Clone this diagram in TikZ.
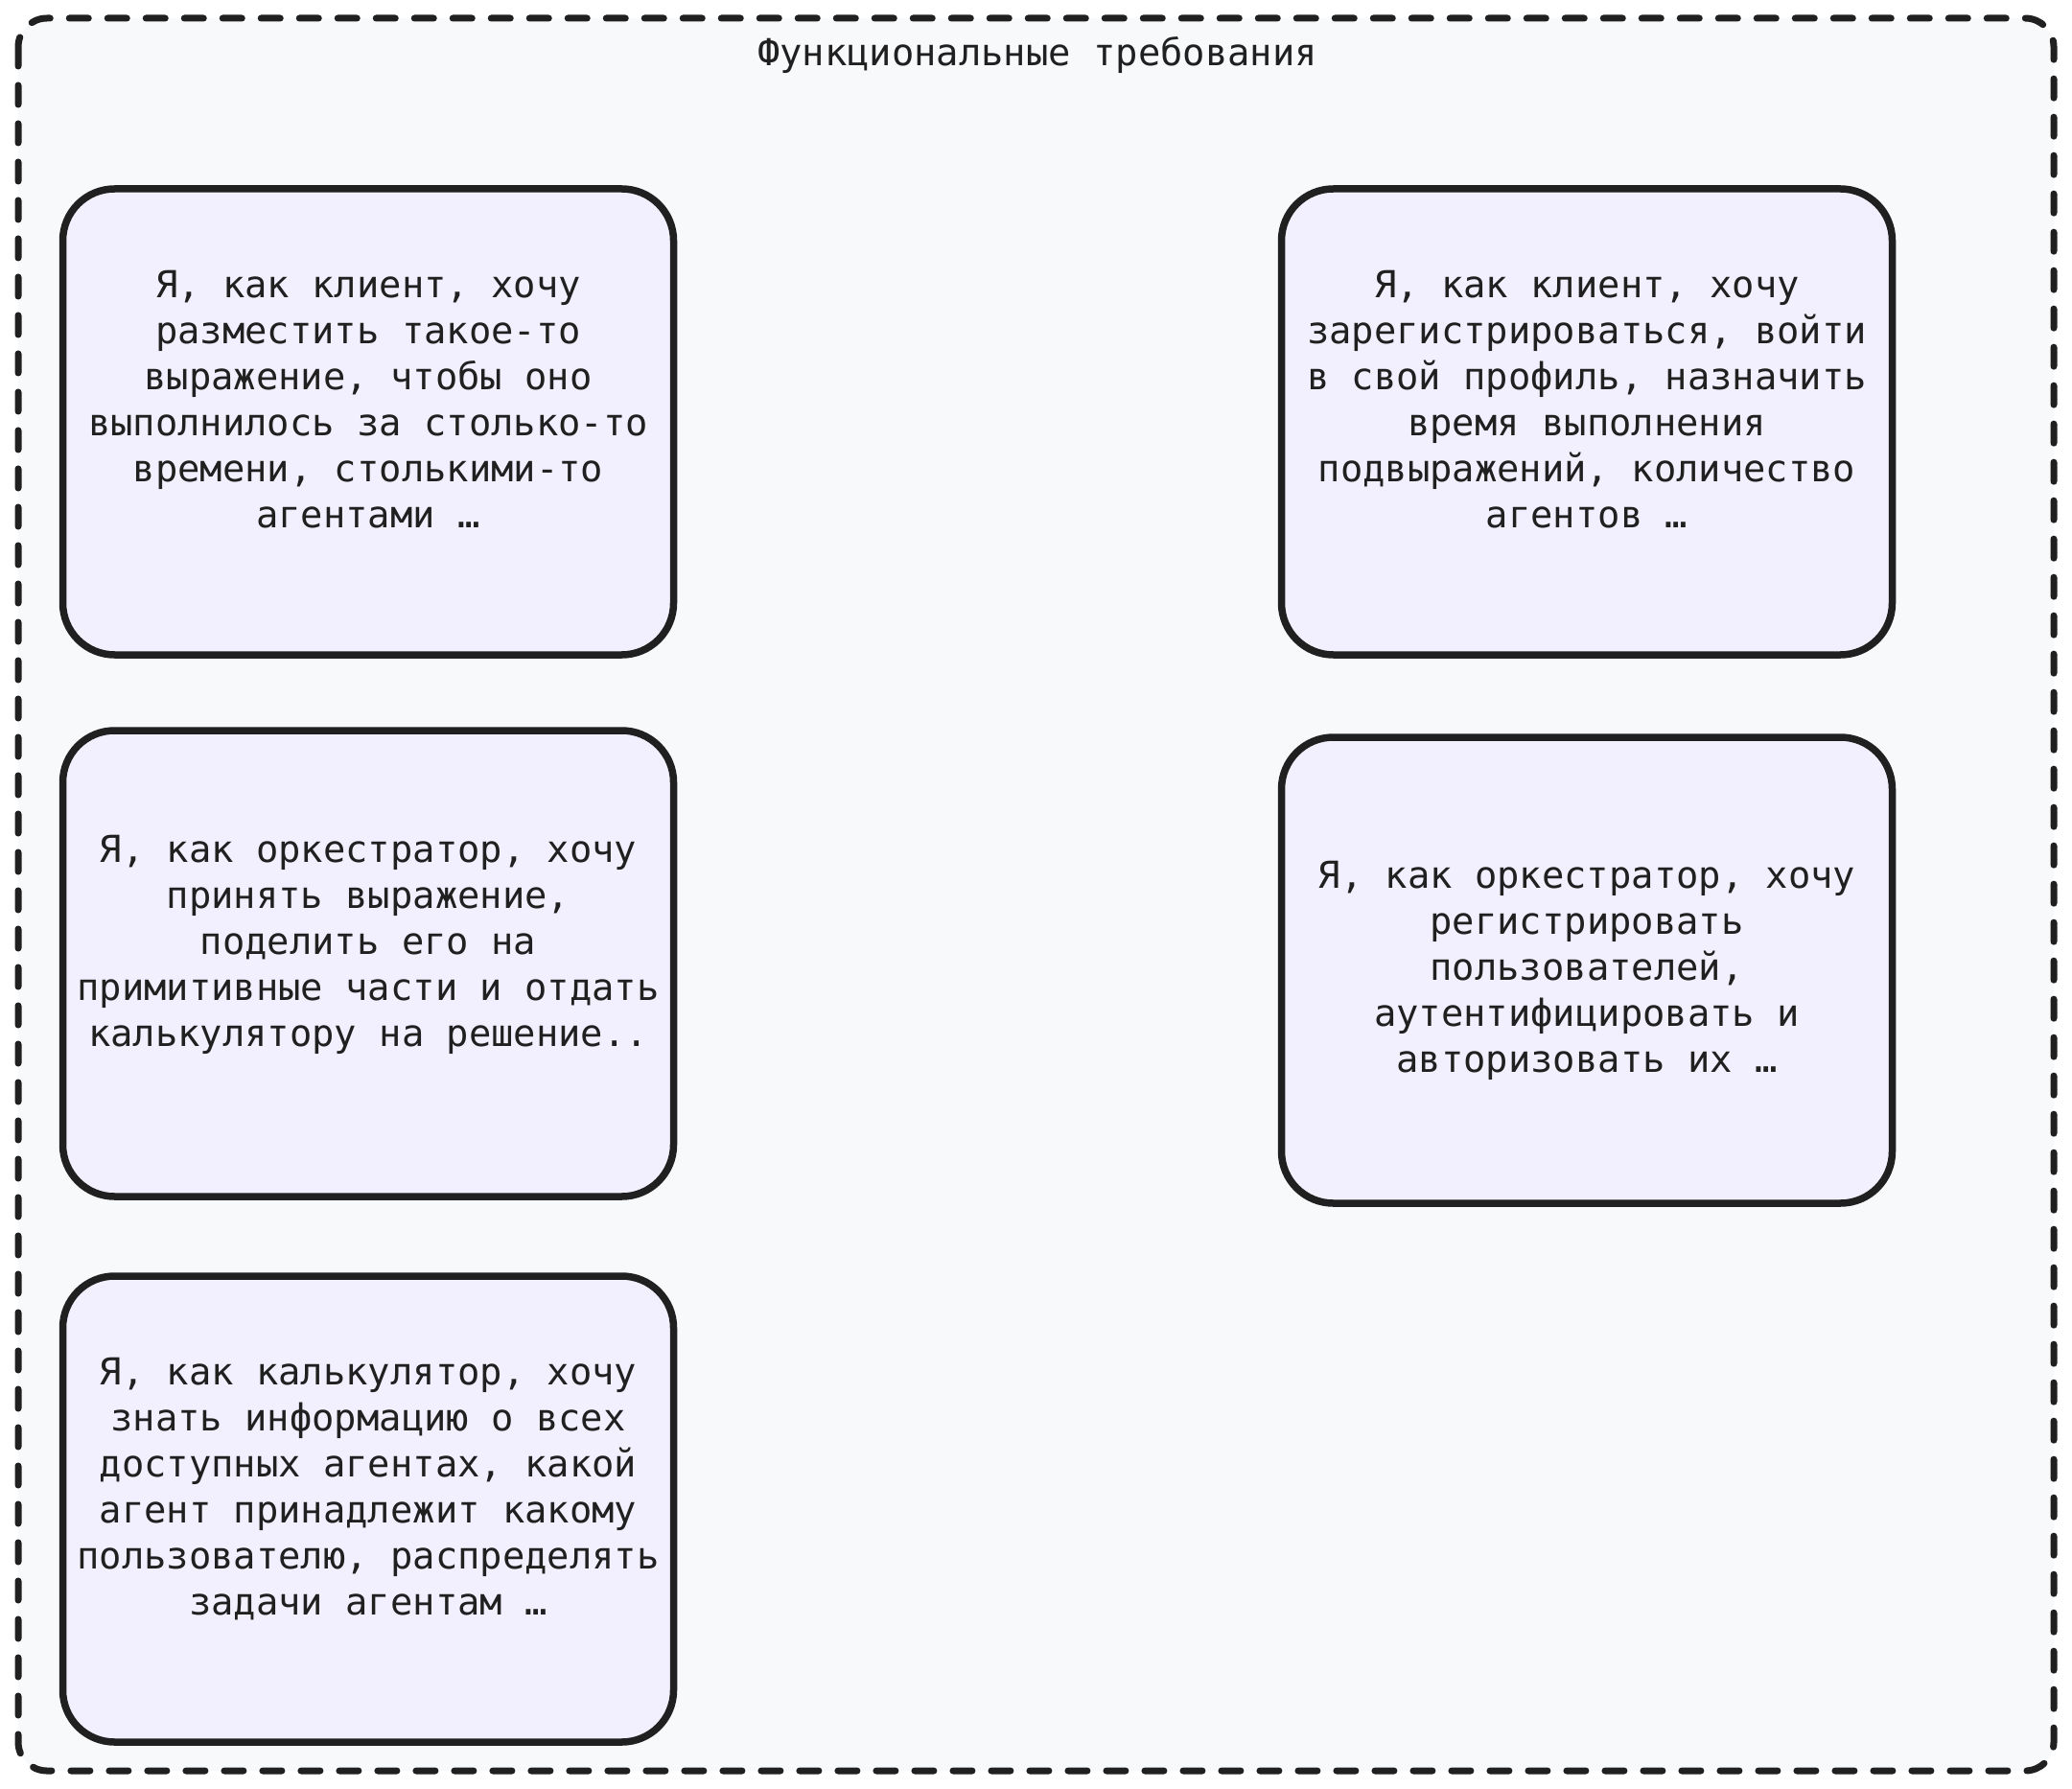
\documentclass[tikz,border=0pt]{standalone}
\usepackage{fontspec}
\setmonofont{DejaVu Sans Mono}
\usepackage{tikz}
\usetikzlibrary{positioning}

\definecolor{frameback}{HTML}{F8F9FB}
\definecolor{storyback}{HTML}{F2F0FE}
\definecolor{inkline}{HTML}{202020}

\begin{document}
\begin{tikzpicture}[
    every node/.style = { align = center, font = \ttfamily\fontsize{19.4pt}{24pt}\selectfont, text = inkline },
    story/.style = { draw = inkline, fill = storyback, line width = 3.75pt, rounded corners = 27pt,
                     minimum width = 318.5pt, minimum height = 243pt, inner sep = 0pt, outer sep = 0pt },
    raised/.style = { text depth = 24pt }
  ]
      \useasboundingbox (0,0) rectangle (1080.5pt,-933pt);
      \fill[white] (0,0) rectangle (1080.5pt,-933pt);
      % outer frame
      \draw[inkline, fill = frameback, line width = 3.5pt, rounded corners = 15pt,
            dash pattern = on 10pt off 10pt, line cap = round]
        (9.5pt,-9.5pt) rectangle (1071pt,-923.5pt);
      \node (title) at (541pt,-28.5pt) {Функциональные требования};

      \node [story, raised] (client1) at (192pt,-220pt)
        {Я, как клиент, хочу \\ разместить такое-то \\ выражение, чтобы оно \\
          выполнилось за столько-то \\ времени, столькими-то \\ агентами …};
      \node [story, raised, right = 317pt of client1] (client2)
        {Я, как клиент, хочу \\ зарегистрироваться, войти \\ в свой профиль, назначить \\
          время выполнения \\ подвыражений, количество \\ агентов …};
      \node [story, raised, below = 39.5pt of client1] (orch1)
        {Я, как оркестратор, хочу \\ принять выражение, \\ поделить его на \\
          примитивные части и отдать \\ калькулятору на решение..};
      \node [story, below = 43pt of client2] (orch2)
        {Я, как оркестратор, хочу \\ регистрировать \\ пользователей, \\
          аутентифицировать и \\ авторизовать их …};
      \node [story, raised, below = 41.5pt of orch1] (calc)
        {Я, как калькулятор, хочу \\ знать информацию о всех \\ доступных агентах, какой \\
          агент принадлежит какому \\ пользователю, распределять \\ задачи агентам …};

    \end{tikzpicture}
\end{document}
